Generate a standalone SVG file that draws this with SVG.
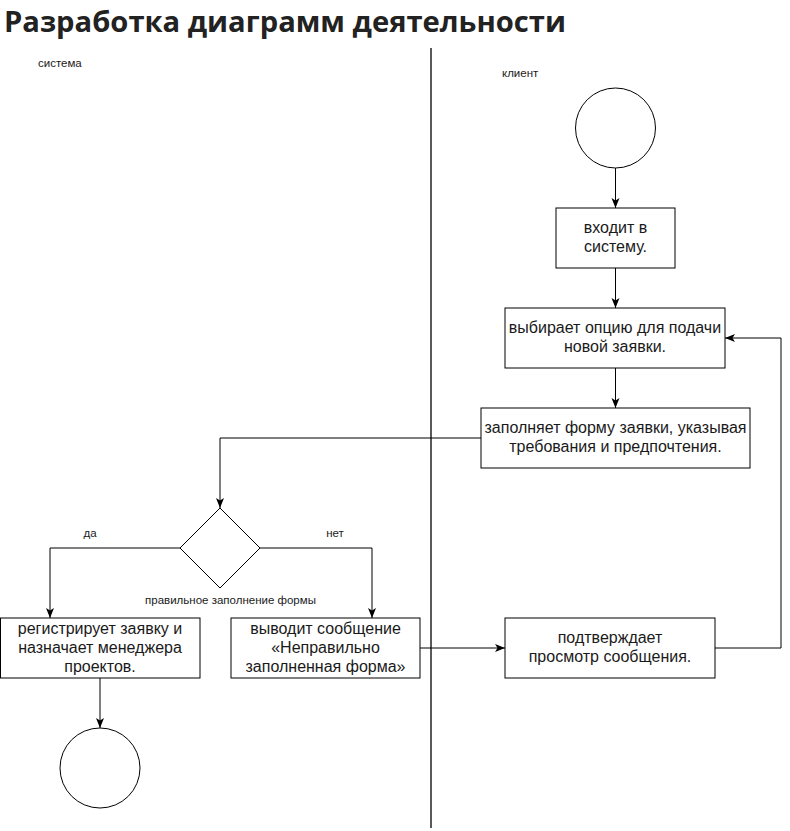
<svg xmlns="http://www.w3.org/2000/svg" width="790" height="831" viewBox="0 0 790 831">
<style>
.bg{fill:#ffffff}
.node{fill:#ffffff;stroke:#000000;stroke-width:1}
.edge{fill:none;stroke:#000000;stroke-width:1}
.lane{fill:none;stroke:#000000;stroke-width:1.3}
.t{font-family:"Liberation Sans",Arial,sans-serif;font-size:16px;fill:#1a1a1a;text-anchor:middle}
.s{font-family:"Liberation Sans",Arial,sans-serif;font-size:11.5px;fill:#1a1a1a}
.title{font-family:"Open Sans","Noto Sans",sans-serif;font-size:29px;font-weight:bold;fill:#222222}
</style>
<defs>
<marker id="arr" markerUnits="userSpaceOnUse" markerWidth="10" markerHeight="10" viewBox="0 0 10 10" refX="10" refY="5" orient="auto">
<path d="M0,1 L10,5 L0,9 L2.5,5 Z" fill="#000000"/>
</marker>
</defs>
<rect class="bg" x="0" y="0" width="790" height="831"/>
<text class="title" x="4" y="32" textLength="562" lengthAdjust="spacingAndGlyphs">Разработка диаграмм деятельности</text>
<g id="lanes">
<line class="lane" x1="431" y1="48" x2="431" y2="828"/>
<text class="s" x="38" y="66.5">система</text>
<text class="s" x="502" y="77">клиент</text>
</g>
<g id="connectors">
<path class="edge" d="M615.5,168 L615.5,208" marker-end="url(#arr)"/>
<path class="edge" d="M615.5,268 L615.5,308" marker-end="url(#arr)"/>
<path class="edge" d="M615.5,368 L615.5,408" marker-end="url(#arr)"/>
<path class="edge" d="M481,438 L220,438 L220,508" marker-end="url(#arr)"/>
<path class="edge" d="M180,548 L50,548 L50,618" marker-end="url(#arr)"/>
<path class="edge" d="M260,548 L372,548 L372,618" marker-end="url(#arr)"/>
<path class="edge" d="M420,648 L505,648" marker-end="url(#arr)"/>
<path class="edge" d="M715,648 L781,648 L781,338 L725,338" marker-end="url(#arr)"/>
<path class="edge" d="M100,678 L100,728" marker-end="url(#arr)"/>
<text class="s" x="90" y="537" text-anchor="middle">да</text>
<text class="s" x="335" y="537" text-anchor="middle">нет</text>
</g>
<g id="start">
<circle class="node" cx="615.5" cy="128" r="40"/>
</g>
<g id="login">
<rect class="node" x="556" y="208" width="119" height="60"/>
<text class="t" x="615.5" y="233">входит в</text>
<text class="t" x="615.5" y="252">систему.</text>
</g>
<g id="choose">
<rect class="node" x="505" y="308" width="220" height="60"/>
<text class="t" x="615" y="333">выбирает опцию для подачи</text>
<text class="t" x="615" y="352">новой заявки.</text>
</g>
<g id="fill">
<rect class="node" x="481" y="408" width="269" height="60"/>
<text class="t" x="615.5" y="433">заполняет форму заявки, указывая</text>
<text class="t" x="615.5" y="452">требования и предпочтения.</text>
</g>
<g id="decision">
<polygon class="node" points="220,508 260,548 220,588 180,548"/>
<text class="s" x="230.5" y="604" text-anchor="middle">правильное заполнение формы</text>
</g>
<g id="register">
<rect class="node" x="0.5" y="618" width="199.5" height="60"/>
<text class="t" x="100" y="633.5">регистрирует заявку и</text>
<text class="t" x="100" y="652.5">назначает менеджера</text>
<text class="t" x="100" y="671.5">проектов.</text>
</g>
<g id="error">
<rect class="node" x="231" y="618" width="189" height="60"/>
<text class="t" x="325.5" y="633.5">выводит сообщение</text>
<text class="t" x="325.5" y="652.5">«Неправильно</text>
<text class="t" x="325.5" y="671.5">заполненная форма»</text>
</g>
<g id="confirm">
<rect class="node" x="505" y="618" width="210" height="60"/>
<text class="t" x="610" y="643">подтверждает</text>
<text class="t" x="610" y="662">просмотр сообщения.</text>
</g>
<g id="end">
<circle class="node" cx="100" cy="768" r="40"/>
</g>
</svg>
